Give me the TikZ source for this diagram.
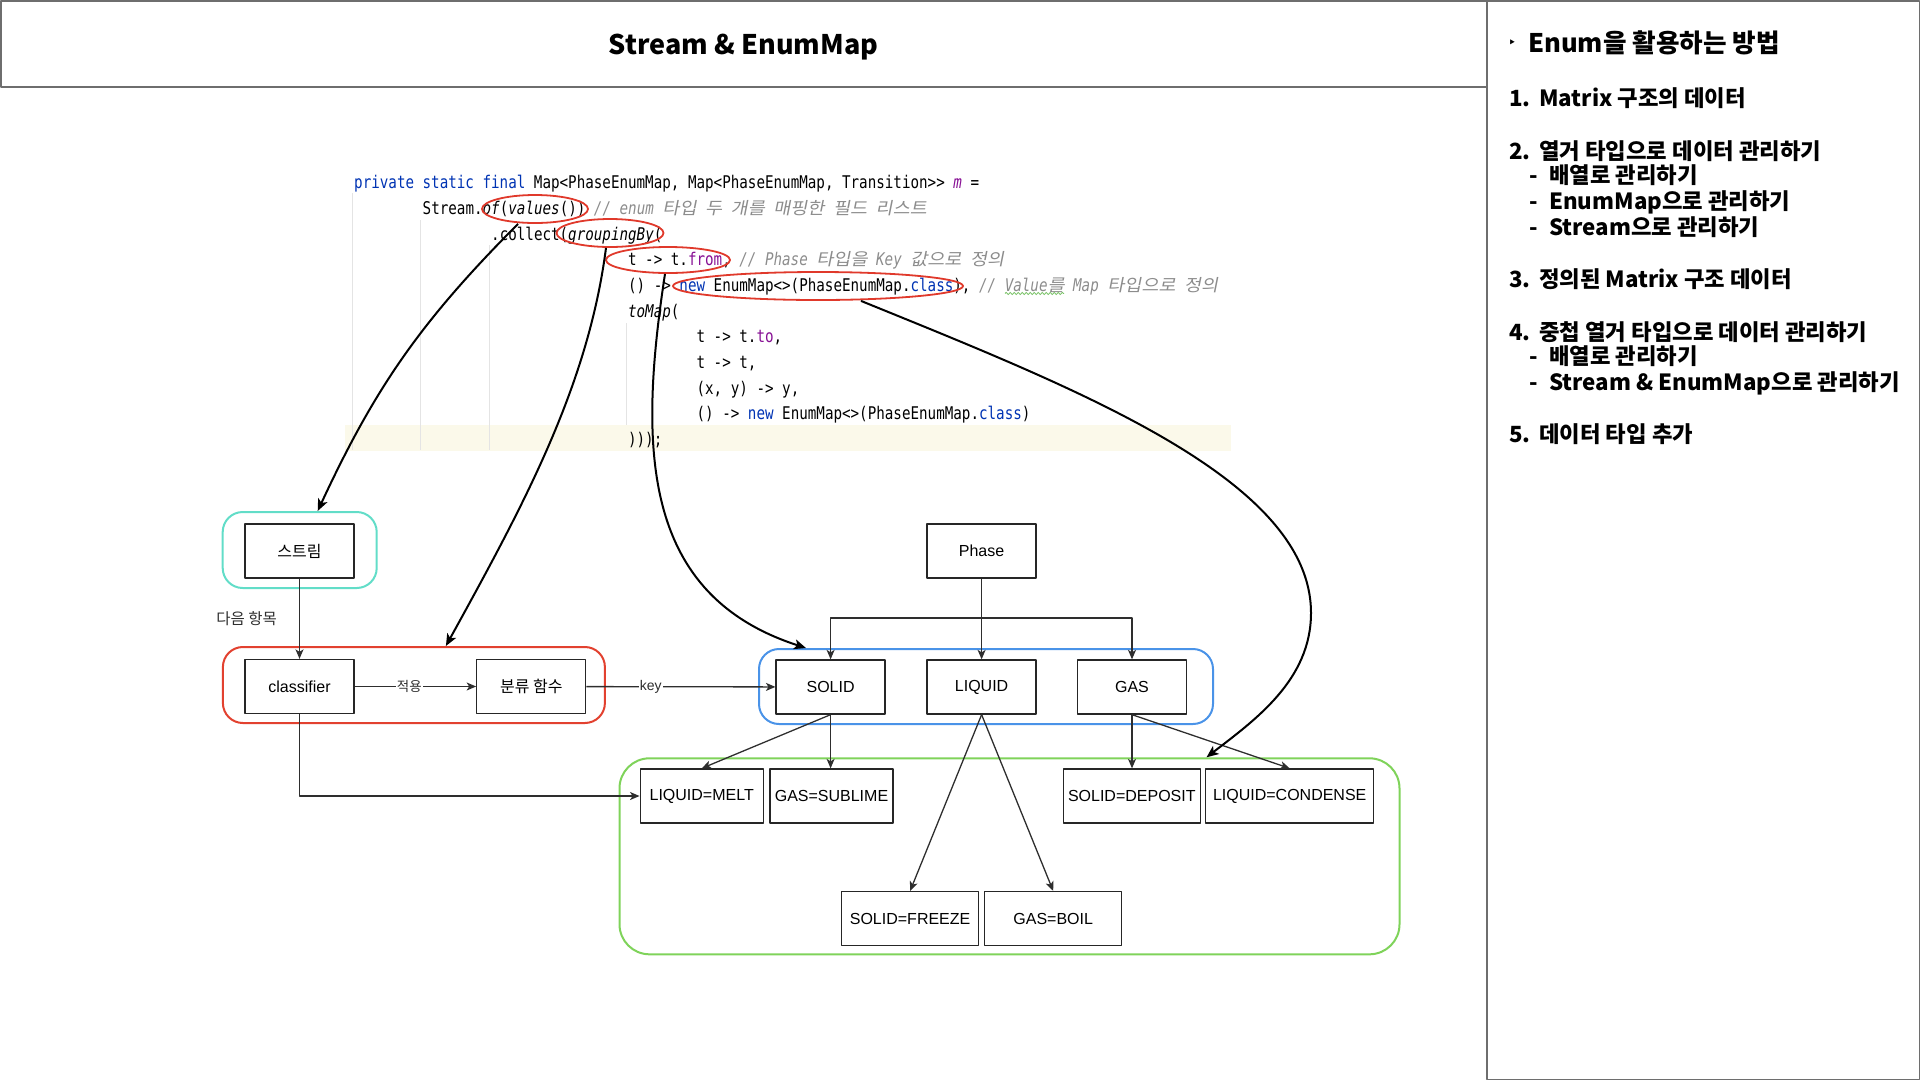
\documentclass[tikz,border=0pt]{standalone}
\usepackage{fontspec}
\setmainfont{Liberation Sans}
\newfontfamily\krfont{Noto Sans CJK KR}
\newfontfamily\codefont[FakeStretch=0.8125]{DejaVu Sans Mono}
\newfontfamily\krcodeit[FakeSlant=0.2,FakeStretch=1.09]{Noto Sans CJK KR}
\newfontfamily\symfont{DejaVu Sans}
\usetikzlibrary{arrows.meta,shapes.geometric,decorations.pathmorphing}

\definecolor{kwblue}{HTML}{0033B3}
\definecolor{fldpurple}{HTML}{871094}
\definecolor{cmtgray}{HTML}{8C8C8C}
\definecolor{guidegray}{HTML}{E4E4E4}
\definecolor{hlyellow}{HTML}{FBF9EA}
\definecolor{markred}{HTML}{E0392B}
\definecolor{streamcyan}{HTML}{62DDC8}
\definecolor{groupred}{HTML}{E2412F}
\definecolor{keyblue}{HTML}{4A93E8}
\definecolor{valgreen}{HTML}{7FD35A}
\definecolor{spellgreen}{HTML}{7CC36A}
\definecolor{edgegray}{HTML}{2E2E2E}
\definecolor{framegray}{HTML}{6E6E6E}

\newcommand{\kw}[1]{\textcolor{kwblue}{#1}}
\newcommand{\fld}[1]{\textcolor{fldpurple}{#1}}
\newcommand{\cmt}[1]{\textcolor{cmtgray}{\itshape #1}}
\newcommand{\hg}[1]{{\fontsize{17}{20}\krcodeit\upshape #1}}

\begin{document}
\begin{tikzpicture}[x=1pt,y=-1pt,line join=round,
  codeline/.style={anchor=base west,inner sep=0,font=\fontsize{17.5}{20}\selectfont\codefont},
  redmark/.style={draw=markred,line width=1.8,ellipse,inner sep=0},
  box/.style={draw=black!85,line width=1.3,fill=white,minimum width=109,minimum height=54,
    inner sep=0,font=\fontsize{16}{19}\selectfont},
  grp/.style={draw=#1,line width=2,rounded corners=20,inner sep=0},
  conn/.style={draw=edgegray,line width=1.3,-{Stealth[length=9.5pt,width=8pt,inset=2.5pt]}},
  jump/.style={line width=2,-{Stealth[length=12pt,width=10pt,inset=3pt]}},
  elabel/.style={fill=white,inner sep=1,text=edgegray},
  menu/.style={anchor=base west,inner sep=0,font=\fontsize{22.3}{26}\selectfont\krfont\bfseries}]
\useasboundingbox (0,0) rectangle (1920,1080);

% ---------- frames ----------
\draw[framegray,line width=1.5] (0.75,0.75) rectangle (1487,87);
\draw[framegray,line width=1.5] (1487,0.75) rectangle (1919.25,1079.25);
\node[font=\fontsize{27}{32}\selectfont\krfont\bfseries] (title) at (743.5,47) {Stream \& EnumMap};

% ---------- side menu ----------
\node[anchor=base west,inner sep=0,font=\fontsize{14}{16}\selectfont\symfont] (bullet) at (1508,47) {‣};
\node[menu,font=\fontsize{25.6}{30}\selectfont\krfont\bfseries] (heading) at (1528,52) {Enum을 활용하는 방법};
\node[menu] (item1) at (1509,106) {\makebox[30pt][l]{1.}Matrix 구조의 데이터};
\node[menu] (item2) at (1509,159.5) {\makebox[30pt][l]{2.}열거 타입으로 데이터 관리하기};
\node[menu] (item2a) at (1529,183.5) {\makebox[20pt][l]{-}배열로 관리하기};
\node[menu] (item2b) at (1529,209.5) {\makebox[20pt][l]{-}EnumMap으로 관리하기};
\node[menu] (item2c) at (1529,235.8) {\makebox[20pt][l]{-}Stream으로 관리하기};
\node[menu] (item3) at (1509,287.8) {\makebox[30pt][l]{3.}정의된 Matrix 구조 데이터};
\node[menu] (item4) at (1509,340.8) {\makebox[30pt][l]{4.}중첩 열거 타입으로 데이터 관리하기};
\node[menu] (item4a) at (1529,364.5) {\makebox[20pt][l]{-}배열로 관리하기};
\node[menu] (item4b) at (1529,390.8) {\makebox[20pt][l]{-}Stream \& EnumMap으로 관리하기};
\node[menu] (item5) at (1509,442.8) {\makebox[30pt][l]{5.}데이터 타입 추가};

% ---------- code ----------
\fill[hlyellow] (345,425) rectangle (1231,451);
\foreach \x/\top/\bot in {352/193/450,420/220/450,489/245/450,626/323/425}
  \draw[guidegray,line width=1] (\x,\top) -- (\x,\bot);
\node[codeline] (code0) at (354,188.8) {\kw{private static final} Map<PhaseEnumMap, Map<PhaseEnumMap, Transition>> \fld{\itshape m} =};
\node[codeline] (code1) at (422.5,214.5) {Stream.\textit{of}(\textit{values}()) \cmt{// enum \hg{타입} \hg{두} \hg{개를} \hg{매핑한} \hg{필드} \hg{리스트}}};
\node[codeline] (code2) at (491,240.1) {.collect(\textit{groupingBy}(};
\node[codeline] (code3) at (627.9,265.8) {t -> t.\fld{from}, \cmt{// Phase \hg{타입을} Key \hg{값으로} \hg{정의}}};
\node[codeline] (code4) at (627.9,291.5) {() -> \kw{new} EnumMap<>(PhaseEnumMap.\kw{class}), \cmt{// Value\hg{를} Map \hg{타입으로} \hg{정의}}};
\node[codeline] (code5) at (627.9,317.2) {\textit{toMap}(};
\node[codeline] (code6) at (696.4,342.8) {t -> t.\fld{to},};
\node[codeline] (code7) at (696.4,368.5) {t -> t,};
\node[codeline] (code8) at (696.4,394.2) {(x, y) -> y,};
\node[codeline] (code9) at (696.4,419.8) {() -> \kw{new} EnumMap<>(PhaseEnumMap.\kw{class})};
\node[codeline] (code10) at (627.9,445.5) {)));};
\draw[spellgreen,line width=0.8,decorate,decoration={snake,amplitude=1.2pt,segment length=4pt}]
  (1005,293.5) -- (1064,293.5);
% marks on the code
\node[redmark,minimum width=106,minimum height=28] (ofvalues) at (535,209) {};
\node[redmark,minimum width=107,minimum height=28] (grouping) at (610,233) {};
\node[redmark,minimum width=124,minimum height=26] (fromkey) at (668,260) {};
\node[redmark,minimum width=290,minimum height=28] (newmap) at (818,286) {};

% ---------- groups ----------
\node[grp=streamcyan,minimum width=154,minimum height=76] (streamgrp) at (299.7,550) {};
\node[grp=groupred,minimum width=382,minimum height=76] (groupgrp) at (413.9,685) {};
\node[grp=keyblue,minimum width=454,minimum height=75] (keygrp) at (986,686.5) {};
\node[grp=valgreen,minimum width=780,minimum height=196,rounded corners=30] (valuegrp) at (1009.5,856.3) {};

% ---------- boxes ----------
\node[box] (stream) at (299.5,551) {\krfont 스트림};
\node[box] (classifier) at (299.5,686.5) {classifier};
\node[box] (groupfn) at (531.3,686.5) {\krfont 분류 함수};
\node[box] (phase) at (981.6,551) {Phase};
\node[box] (solid) at (830.6,687) {SOLID};
\node[box] (liquid) at (981.6,687) {LIQUID};
\node[box] (gas) at (1132,687) {GAS};
\node[box,minimum width=123] (melt) at (701.7,796) {LIQUID=MELT};
\node[box,minimum width=123] (sublime) at (831.5,796) {GAS=SUBLIME};
\node[box,minimum width=137] (deposit) at (1131.8,796) {SOLID=DEPOSIT};
\node[box,minimum width=168] (condense) at (1289.7,796) {LIQUID=CONDENSE};
\node[box,minimum width=137] (freeze) at (910.1,918.6) {SOLID=FREEZE};
\node[box,minimum width=137] (boil) at (1053.2,918.6) {GAS=BOIL};

% ---------- connectors ----------
\draw[conn] (stream) -- node[left=22pt,inner sep=0,text=edgegray,font=\fontsize{15.5}{18}\selectfont\krfont]{다음 항목} (classifier);
\draw[conn] (classifier) -- node[elabel,pos=0.45,font=\fontsize{13.5}{15}\selectfont\krfont]{적용} (groupfn);
\draw[conn] (groupfn) -- node[elabel,pos=0.34,font=\fontsize{14}{16}\selectfont]{key} (solid);
\coordinate (split) at (981.6,618);
\draw[conn] (phase) -- (liquid);
\draw[conn] (phase.south) -- (split) -| (solid.north);
\draw[conn] (phase.south) -- (split) -| (gas.north);
\draw[conn] (solid.south) -- (melt.north);
\draw[conn] (solid.south) -- (solid.south |- sublime.north);
\draw[conn] (liquid.south) -- (freeze.north);
\draw[conn] (liquid.south) -- (boil.north);
\draw[conn] (gas.south) -- (gas.south |- deposit.north);
\draw[conn] (gas.south) -- (condense.north);
\draw[conn] (classifier.south) |- (melt.west);

% ---------- code to diagram ----------
\draw[jump] ([xshift=-17pt]ofvalues.south) to[bend right=10] ([xshift=18pt]streamgrp.north);
\draw[jump] ([xshift=-4pt]grouping.south) .. controls (588,387) and (523,506) .. ([xshift=32pt]groupgrp.north);
\draw[jump] ([xshift=-3pt]fromkey.south) .. controls (638,450) and (642,595) .. ([xshift=-180pt]keygrp.north);
\draw[jump] ([xshift=43pt]newmap.south) .. controls (1080,390) and (1311,480) .. (1311,613)
  .. controls (1311,680) and (1255,720) .. ([xshift=197pt]valuegrp.north);
\end{tikzpicture}
\end{document}
